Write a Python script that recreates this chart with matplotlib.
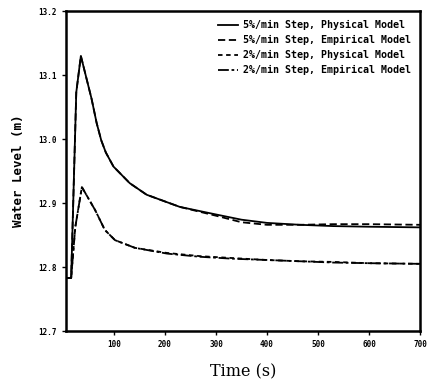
import matplotlib
matplotlib.use("Agg")
import matplotlib.pyplot as plt

# 5%/min step, physical model
t5p = [6, 16, 26, 35, 56, 66, 75, 84, 99, 131, 164, 229, 301, 350, 400, 465, 530, 600, 700]
v5p = [12.783, 12.783, 13.073, 13.130, 13.063, 13.025, 12.998, 12.979, 12.957, 12.931,
       12.913, 12.894, 12.882, 12.874, 12.869, 12.866, 12.864, 12.863, 12.862]
# 5%/min step, empirical model
t5e = [6, 16, 26, 35, 56, 66, 75, 84, 99, 131, 164, 229, 301, 350, 400, 465, 530, 600, 700]
v5e = [12.783, 12.783, 13.073, 13.130, 13.063, 13.025, 12.998, 12.979, 12.957, 12.931,
       12.913, 12.894, 12.880, 12.870, 12.866, 12.866, 12.867, 12.867, 12.866]
# 2%/min step, physical model
t2p = [6, 16, 24, 37, 63, 82, 102, 141, 204, 269, 333, 400, 465, 530, 600, 700]
v2p = [12.783, 12.783, 12.862, 12.925, 12.889, 12.858, 12.842, 12.830, 12.822,
       12.817, 12.814, 12.811, 12.809, 12.808, 12.806, 12.805]
# 2%/min step, empirical model
t2e = [6, 16, 24, 37, 63, 82, 102, 141, 204, 269, 333, 400, 465, 530, 600, 700]
v2e = [12.783, 12.783, 12.862, 12.925, 12.889, 12.858, 12.842, 12.830, 12.821,
       12.816, 12.813, 12.811, 12.809, 12.807, 12.806, 12.805]

labels = ["5%/min Step, Physical Model", "5%/min Step, Empirical Model",
          "2%/min Step, Physical Model", "2%/min Step, Empirical Model"]
xticks = [100, 200, 300, 400, 500, 600, 700]
yticks = [12.7, 12.8, 12.9, 13.0, 13.1, 13.2]

fig = plt.figure(figsize=(4.29, 3.84), dpi=100)
ax = fig.add_axes([0.154, 0.138, 0.825, 0.833])

ax.plot(t5p, v5p, color="black", lw=1.3, ls="-", label=labels[0])
ax.plot(t5e, v5e, color="black", lw=1.3, ls=(0, (4, 2)), label=labels[1])
ax.plot(t2p, v2p, color="black", lw=1.3, ls=(0, (2.5, 2)), label=labels[2])
ax.plot(t2e, v2e, color="black", lw=1.3, ls=(0, (6, 1.5, 1.5, 1.5)), label=labels[3])

ax.set_xlim(6, 700)
ax.set_ylim(12.7, 13.2)
ax.set_xticks(xticks)
ax.set_yticks(yticks)
ax.set_xticklabels([str(x) for x in xticks], fontsize=5.5, fontweight="bold",
                   family="DejaVu Sans Mono")
ax.set_yticklabels([f"{y:.1f}" for y in yticks], fontsize=5.5, fontweight="bold",
                   family="DejaVu Sans Mono")
ax.tick_params(direction="out", length=3, width=1)
for s in ax.spines.values():
    s.set_linewidth(1.8)

ax.set_xlabel("Time (s)", fontsize=11.5, family="DejaVu Serif", labelpad=10)
ax.set_ylabel("Water Level (m)", fontsize=9, fontweight="bold",
              family="DejaVu Sans Mono", labelpad=10)

leg = ax.legend(loc="upper right", frameon=False, handlelength=2.0,
                prop={"family": "DejaVu Sans Mono", "weight": "bold", "size": 7.2},
                labelspacing=0.5, borderaxespad=0.5, handletextpad=0.5)

fig.savefig("out.png", dpi=100)
